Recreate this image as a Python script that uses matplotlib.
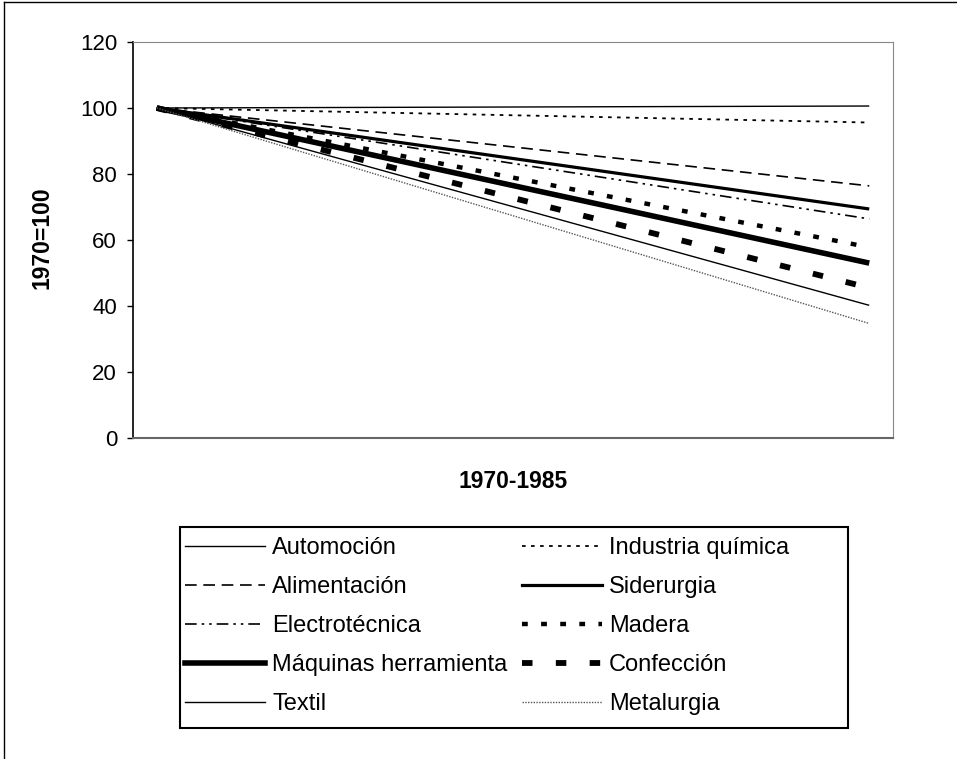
import numpy as np
import matplotlib.pyplot as plt
from matplotlib.lines import Line2D
from matplotlib.patches import Rectangle

plt.rcParams['font.family'] = ['Liberation Sans', 'DejaVu Sans']

# years 1970..1985, only first and last value given (1970 = 100)
years = np.arange(1970, 1986)
sectors = ['Automoción', 'Alimentación', 'Electrotécnica', 'Máquinas herramienta', 'Textil',
           'Industria química', 'Siderurgia', 'Madera', 'Confección', 'Metalurgia']
start = [100, 100, 100, 100, 100, 100, 100, 100, 100, 100]
end_1985 = [100.6, 76.4, 66.4, 53.0, 40.2, 95.6, 69.4, 57.8, 45.5, 34.7]

styles = {
    'Automoción': dict(color='black', lw=1.0, ls='-'),
    'Alimentación': dict(color='black', lw=1.2, ls=(0, (7, 4))),
    'Electrotécnica': dict(color='black', lw=1.2, ls=(0, (7, 3, 1.5, 3, 1.5, 3))),
    'Máquinas herramienta': dict(color='black', lw=4.0, ls='-'),
    'Textil': dict(color='black', lw=1.0, ls='-'),
    'Industria química': dict(color='black', lw=1.3, ls=(0, (2, 3))),
    'Siderurgia': dict(color='black', lw=2.3, ls='-'),
    'Madera': dict(color='black', lw=3.2, ls=(0, (1.3, 3))),
    'Confección': dict(color='black', lw=4.2, ls=(0, (1.8, 4))),
    'Metalurgia': dict(color='#555555', lw=1.0, ls=(0, (1, 1))),
}

W, H = 957, 759
fig = plt.figure(figsize=(W / 100, H / 100), dpi=100)
ax = fig.add_axes([133 / W, 1 - 438 / H, 760 / W, 396 / H])

x = np.arange(len(years))
handles = []
for name, a, b in zip(sectors, start, end_1985):
    st = styles[name]
    ax.plot([x[0], x[-1]], [a, b], color=st['color'], lw=st['lw'], linestyle=st['ls'],
            solid_capstyle='butt', dash_capstyle='butt')
    handles.append(Line2D([], [], color=st['color'], lw=st['lw'], linestyle=st['ls'],
                          dash_capstyle='butt'))

ax.set_xlim(-0.5, len(years) - 0.5)
ax.set_ylim(0, 120)
ax.set_yticks(np.arange(0, 121, 20))
ax.set_xticks([])
ax.tick_params(axis='y', labelsize=16, length=4.5, width=1, direction='out', pad=7)
for s in ['top', 'right']:
    ax.spines[s].set_color('#888888')
ax.spines['left'].set_linewidth(1.2)
ax.spines['bottom'].set_color('#666666')
ax.spines['bottom'].set_linewidth(1.5)

fig.text(42 / W, 1 - 238 / H, '1970=100', fontsize=16.5, fontweight='bold',
         rotation=90, ha='center', va='center')
fig.text(513 / W, 1 - 482 / H, '1970-1985', fontsize=16.5, fontweight='bold',
         ha='center', va='center')

leg = fig.legend(handles, sectors, ncol=2, loc='upper left',
                 bbox_to_anchor=(185 / W, 1 - 537 / H), borderaxespad=0,
                 fontsize=17, handlelength=3.4, handletextpad=0.3,
                 columnspacing=0.6, labelspacing=0.72, borderpad=0,
                 frameon=False)

# legend box
fig.add_artist(Rectangle((180 / W, 1 - 728 / H), 668 / W, 201 / H, fill=False,
                         edgecolor='black', lw=1.5, transform=fig.transFigure))

# border of the scanned figure
fig.add_artist(Line2D([0.004, 0.004], [0, 0.997], color='black', lw=1, transform=fig.transFigure))
fig.add_artist(Line2D([0.004, 1], [0.997, 0.997], color='black', lw=1, transform=fig.transFigure))

plt.savefig('out.png', dpi=100)
